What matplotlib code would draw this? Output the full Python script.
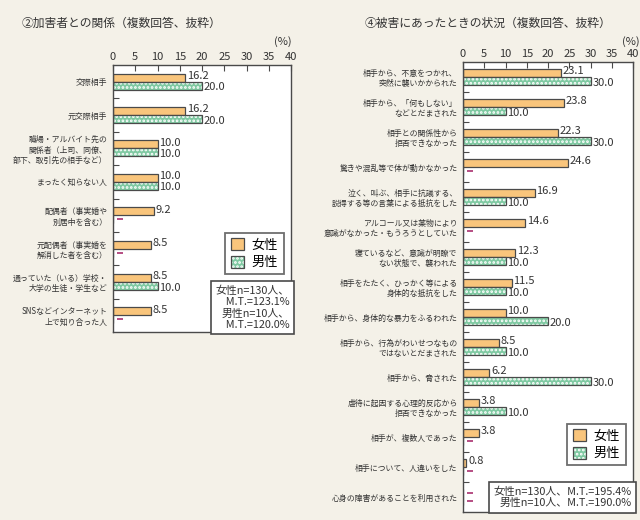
import numpy as np
import matplotlib
matplotlib.use("Agg")
import matplotlib.pyplot as plt
from matplotlib.patches import Patch

plt.rcParams['font.family'] = ['Noto Sans CJK JP', 'DejaVu Sans']
plt.rcParams['hatch.linewidth'] = 1.3

# data
left_labels = ['交際相手', '元交際相手',
               '職場・アルバイト先の\n関係者（上司、同僚、\n部下、取引先の相手など）',
               'まったく知らない人', '配偶者（事実婚や\n別居中を含む）',
               '元配偶者（事実婚を\n解消した者を含む）',
               '通っていた（いる）学校・\n大学の生徒・学生など',
               'SNSなどインターネット\n上で知り合った人']
left_female = [16.2, 16.2, 10.0, 10.0, 9.2, 8.5, 8.5, 8.5]
left_male = [20.0, 20.0, 10.0, 10.0, np.nan, np.nan, 10.0, np.nan]

right_labels = ['相手から、不意をつかれ、\n突然に襲いかかられた',
                '相手から、「何もしない」\nなどとだまされた',
                '相手との関係性から\n拒否できなかった',
                '驚きや混乱等で体が動かなかった',
                '泣く、叫ぶ、相手に抗議する、\n説得する等の言葉による抵抗をした',
                'アルコール又は薬物により\n意識がなかった・もうろうとしていた',
                '寝ているなど、意識が明瞭で\nない状態で、襲われた',
                '相手をたたく、ひっかく等による\n身体的な抵抗をした',
                '相手から、身体的な暴力をふるわれた',
                '相手から、行為がわいせつなもの\nではないとだまされた',
                '相手から、脅された',
                '虐待に起因する心理的反応から\n拒否できなかった',
                '相手が、複数人であった',
                '相手について、人違いをした',
                '心身の障害があることを利用された']
right_female = [23.1, 23.8, 22.3, 24.6, 16.9, 14.6, 12.3, 11.5, 10.0, 8.5, 6.2, 3.8, 3.8, 0.8, np.nan]
right_male = [30.0, 10.0, 30.0, np.nan, 10.0, np.nan, 10.0, 10.0, 20.0, 10.0, 30.0, 10.0, np.nan, np.nan, np.nan]

bg = '#f4f1e8'
f_col = '#f9c57c'
m_col = '#7fc9a2'
edge = '#4a4a4a'
dash_col = '#b0407a'

fig = plt.figure(figsize=(6.4, 5.2), dpi=100, facecolor=bg)


def draw_panel(ax, labels, fem, mal, bh, off):
    n = len(labels)
    y = np.arange(n)
    fem = np.array(fem)
    mal = np.array(mal)
    yf = y - off
    ym = y + off
    ax.barh(yf, np.nan_to_num(fem), height=bh, color=f_col, edgecolor=edge, linewidth=0.9)
    # male: green with white checks, then outline
    ax.barh(ym, np.nan_to_num(mal), height=bh, color=m_col, edgecolor='white', hatch='....', linewidth=0)
    ax.barh(ym, np.nan_to_num(mal), height=bh, color='none', edgecolor=edge, linewidth=0.9)
    # "–" for no answer
    ax.plot(np.full(np.isnan(fem).sum(), 1.6), yf[np.isnan(fem)], ls='none', marker='_',
            ms=4, mew=1.3, color=dash_col)
    ax.plot(np.full(np.isnan(mal).sum(), 1.6), ym[np.isnan(mal)], ls='none', marker='_',
            ms=4, mew=1.3, color=dash_col)
    for i in range(n):
        if not np.isnan(fem[i]):
            ax.text(fem[i] + 0.4, yf[i] - 0.05, f'{fem[i]:.1f}', fontsize=8, va='center', ha='left', color='#333333')
        if not np.isnan(mal[i]):
            ax.text(mal[i] + 0.4, ym[i] + 0.05, f'{mal[i]:.1f}', fontsize=8, va='center', ha='left', color='#333333')
    ax.set_xlim(0, 40)
    ax.set_ylim(n - 0.5, -0.5)
    ax.set_yticks(y)
    ax.set_yticklabels(labels, fontsize=5.7, linespacing=1.2, color='#333333')
    ax.set_yticks(np.arange(n - 1) + 0.5, minor=True)
    ax.tick_params(axis='y', which='major', length=0, pad=4)
    ax.tick_params(axis='y', which='minor', direction='in', length=4, width=0.8, color=edge)
    ax.set_xticks(np.arange(0, 41, 5))
    ax.xaxis.tick_top()
    ax.tick_params(axis='x', direction='in', length=4, width=0.8, labelsize=8, color=edge, labelcolor='#333333', pad=2)
    ax.set_facecolor('white')
    for s in ax.spines.values():
        s.set_color(edge)
        s.set_linewidth(1.0)


ax1 = fig.add_axes([113 / 640, 1 - 332 / 520, 178 / 640, 267 / 520])
draw_panel(ax1, left_labels, left_female, left_male, 0.24, 0.12)

ax2 = fig.add_axes([463 / 640, 1 - 512 / 520, 170 / 640, 450 / 520])
draw_panel(ax2, right_labels, right_female, right_male, 0.27, 0.135)

handles = [Patch(facecolor=f_col, edgecolor=edge, linewidth=0.9),
           (Patch(facecolor=m_col, edgecolor='white', hatch='....', linewidth=0),
            Patch(facecolor='none', edgecolor=edge, linewidth=0.9))]

for ax, anchor in [(ax1, (0.995, 0.395)), (ax2, (0.995, 0.21))]:
    leg = ax.legend(handles=handles, labels=['女性', '男性'], loc='upper right', bbox_to_anchor=anchor,
                    fontsize=9.5, frameon=True, fancybox=False, handlelength=1.0, handleheight=1.0,
                    handletextpad=0.6, borderpad=0.4, labelspacing=0.3)
    leg.get_frame().set_edgecolor(edge)
    leg.get_frame().set_linewidth(1.3)

ax1.text(0.99, 0.008, '女性n=130人、\n  M.T.=123.1%\n男性n=10人、\n  M.T.=120.0%',
         transform=ax1.transAxes, ha='right', va='bottom', fontsize=7.8, linespacing=1.15,
         color='#333333',
         bbox=dict(boxstyle='square,pad=0.4', facecolor='white', edgecolor=edge, linewidth=1.2))
ax2.text(0.99, 0.008, '女性n=130人、M.T.=195.4%\n男性n=10人、M.T.=190.0%',
         transform=ax2.transAxes, ha='right', va='bottom', fontsize=7.8, linespacing=1.15,
         color='#333333',
         bbox=dict(boxstyle='square,pad=0.4', facecolor='white', edgecolor=edge, linewidth=1.2))

fig.text(22 / 640, 1 - 23 / 520, '②加害者との関係（複数回答、抜粋）', fontsize=8.5, va='center', ha='left', color='#333333')
fig.text(365 / 640, 1 - 23 / 520, '④被害にあったときの状況（複数回答、抜粋）', fontsize=8.5, va='center', ha='left', color='#333333')
fig.text(283 / 640, 1 - 42 / 520, '(%)', fontsize=8, va='center', ha='center', color='#333333')
fig.text(622 / 640, 1 - 42 / 520, '(%)', fontsize=8, va='center', ha='left', color='#333333')

fig.savefig('out.png', dpi=100, facecolor=bg)
